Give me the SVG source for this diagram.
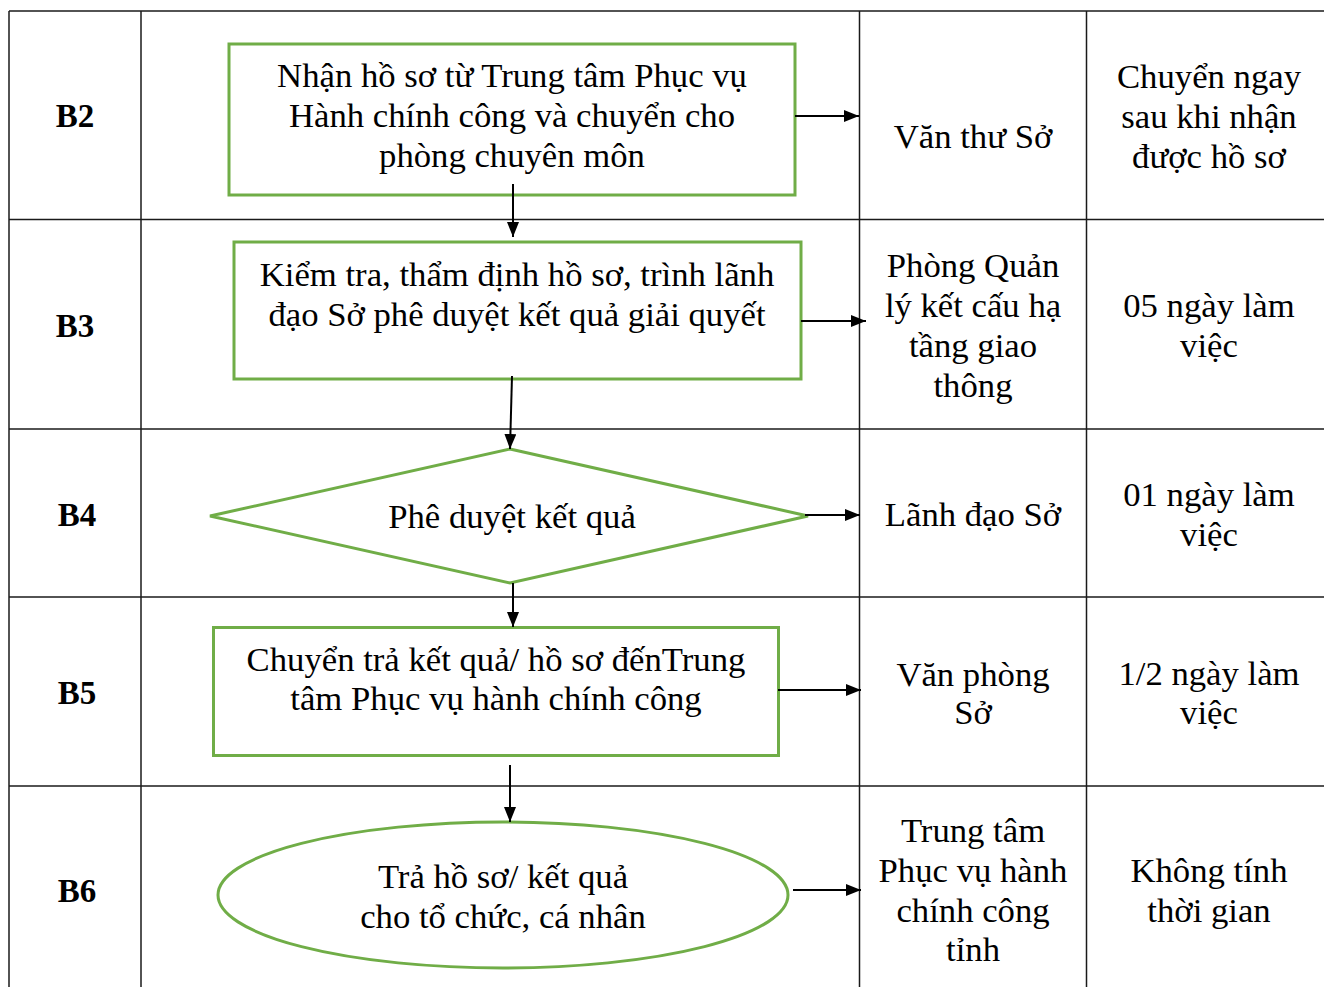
<svg xmlns="http://www.w3.org/2000/svg" width="1324" height="987" viewBox="0 0 1324 987">
<defs>
<style>
.grid{stroke:#1a1a1a;stroke-width:1.5;fill:none}
.shape{fill:#fff;stroke:#70AD47;stroke-width:3}
text{font-family:'Liberation Serif','Times New Roman',Times,serif;font-size:34.7px;fill:#000;text-anchor:middle}
.b{font-weight:bold;font-size:33px}
.c{stroke:#000;stroke-width:2;fill:none;marker-end:url(#ah)}
</style>
<marker id="ah" viewBox="0 0 15 12" refX="15" refY="6" markerWidth="15" markerHeight="12" markerUnits="userSpaceOnUse" orient="auto">
<path d="M0,0 L15,6 L0,12 z" fill="#000"/>
</marker>
</defs>
<rect width="1324" height="987" fill="#fff"/>
<g id="table">
<line class="grid" x1="9" y1="11" x2="1324" y2="11"/>
<line class="grid" x1="9" y1="219.5" x2="1324" y2="219.5"/>
<line class="grid" x1="9" y1="429" x2="1324" y2="429"/>
<line class="grid" x1="9" y1="597" x2="1324" y2="597"/>
<line class="grid" x1="9" y1="786" x2="1324" y2="786"/>
<line class="grid" x1="9" y1="11" x2="9" y2="987"/>
<line class="grid" x1="141" y1="11" x2="141" y2="987"/>
<line class="grid" x1="859.5" y1="11" x2="859.5" y2="987"/>
<line class="grid" x1="1086.5" y1="11" x2="1086.5" y2="987"/>
</g>
<g id="labels">
<text class="b" x="75" y="127">B2</text>
<text class="b" x="75" y="337">B3</text>
<text class="b" x="77" y="526">B4</text>
<text class="b" x="77" y="704">B5</text>
<text class="b" x="77" y="902">B6</text>
</g>
<g id="n-b2">
<rect class="shape" x="229" y="44" width="566" height="151"/>
<text x="512" y="87">Nhận hồ sơ từ Trung tâm Phục vụ</text>
<text x="512" y="127">Hành chính công và chuyển cho</text>
<text x="512" y="167">phòng chuyên môn</text>
</g>
<g id="n-b3">
<rect class="shape" x="234" y="242" width="567" height="137"/>
<text x="517" y="286">Kiểm tra, thẩm định hồ sơ, trình lãnh</text>
<text x="517" y="326">đạo Sở phê duyệt kết quả giải quyết</text>
</g>
<g id="n-b4">
<polygon class="shape" points="510,449 808,516 510,583 210,516"/>
<text x="512" y="528">Phê duyệt kết quả</text>
</g>
<g id="n-b5">
<rect class="shape" x="213.5" y="627.5" width="565" height="128"/>
<text x="496" y="671">Chuyển trả kết quả/ hồ sơ đếnTrung</text>
<text x="496" y="710">tâm Phục vụ hành chính công</text>
</g>
<g id="n-b6">
<ellipse class="shape" cx="503" cy="895" rx="285" ry="73"/>
<text x="503" y="888">Trả hồ sơ/ kết quả</text>
<text x="503" y="928">cho tổ chức, cá nhân</text>
</g>
<g id="col3">
<text x="973" y="148">Văn thư Sở</text>
<text x="973" y="277">Phòng Quản</text>
<text x="973" y="317">lý kết cấu hạ</text>
<text x="973" y="357">tầng giao</text>
<text x="973" y="397">thông</text>
<text x="973" y="526">Lãnh đạo Sở</text>
<text x="973" y="686">Văn phòng</text>
<text x="973" y="724">Sở</text>
<text x="973" y="842">Trung tâm</text>
<text x="973" y="882">Phục vụ hành</text>
<text x="973" y="922">chính công</text>
<text x="973" y="961">tỉnh</text>
</g>
<g id="col4">
<text x="1209" y="88">Chuyển ngay</text>
<text x="1209" y="128">sau khi nhận</text>
<text x="1209" y="168">được hồ sơ</text>
<text x="1209" y="317">05 ngày làm</text>
<text x="1209" y="357">việc</text>
<text x="1209" y="506">01 ngày làm</text>
<text x="1209" y="546">việc</text>
<text x="1209" y="685">1/2 ngày làm</text>
<text x="1209" y="724">việc</text>
<text x="1209" y="882">Không tính</text>
<text x="1209" y="922">thời gian</text>
</g>
<g id="connectors">
<line class="c" x1="795" y1="116" x2="859" y2="116"/>
<line class="c" x1="513" y1="184" x2="513" y2="237"/>
<line class="c" x1="801" y1="321" x2="866" y2="321"/>
<line class="c" x1="512" y1="376" x2="510" y2="449"/>
<line class="c" x1="805" y1="515" x2="860" y2="515"/>
<line class="c" x1="513" y1="583" x2="513" y2="627"/>
<line class="c" x1="778" y1="690" x2="861" y2="690"/>
<line class="c" x1="510" y1="765" x2="510" y2="822"/>
<line class="c" x1="793" y1="890" x2="861" y2="890"/>
</g>
</svg>
